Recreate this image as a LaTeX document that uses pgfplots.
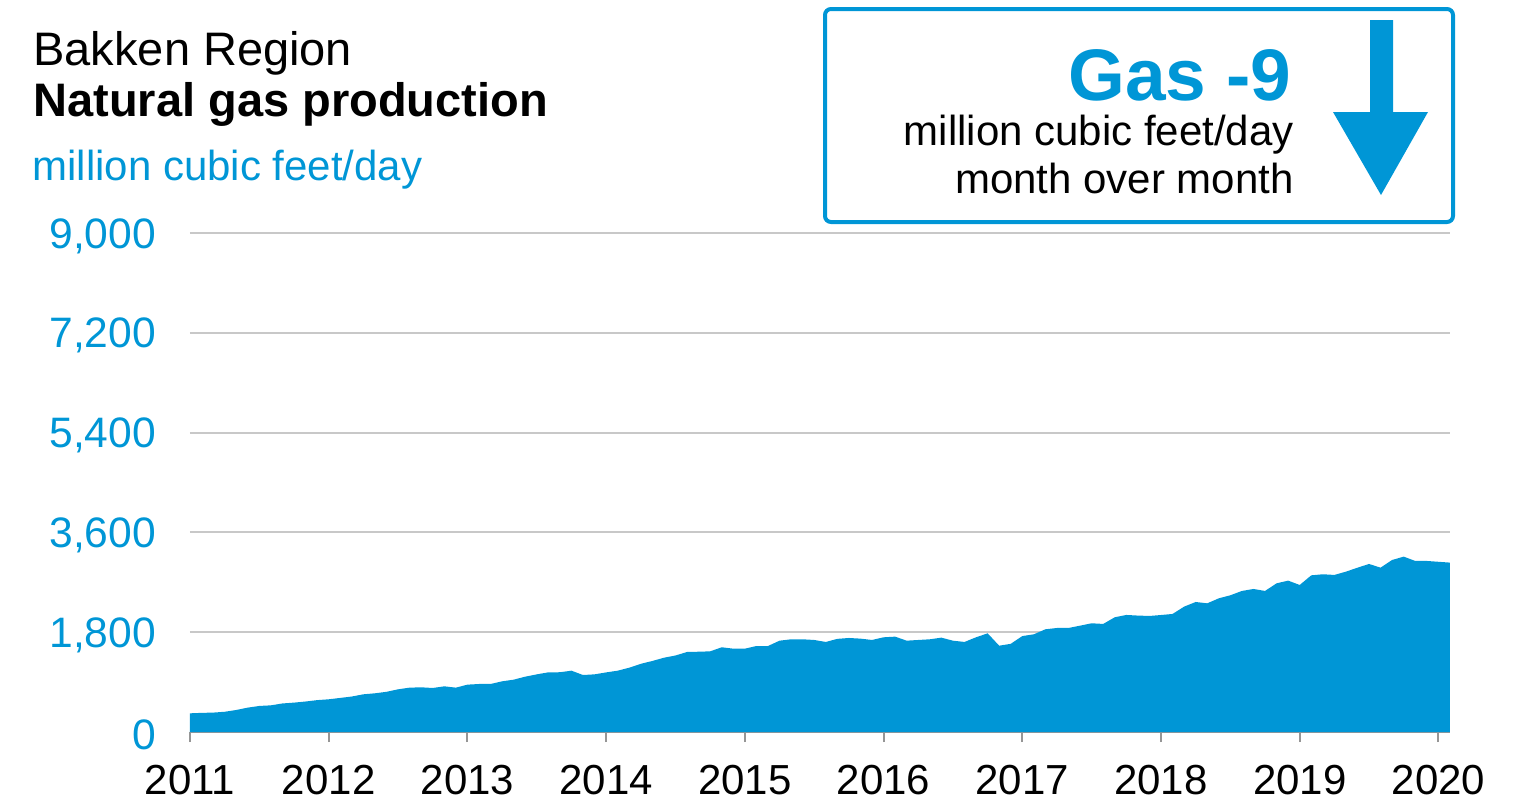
\documentclass[border=0pt]{standalone}
\usepackage{fontspec}
\setmainfont{Liberation Sans}
\usepackage{pgfplots}
\pgfplotsset{compat=1.18}
\usepackage{pgfplotstable}
\definecolor{eiablue}{RGB}{0,150,214}
\definecolor{gridgray}{RGB}{200,200,200}
\definecolor{tickgray}{RGB}{150,150,150}

\pgfplotstableread{
m val
0 337
1 345
2 350
3 365
4 397
5 440
6 470
7 481
8 515
9 530
10 550
11 575
12 590
13 615
14 640
15 680
16 698
17 725
18 770
19 800
20 806
21 794
22 824
23 800
24 854
25 866
26 866
27 914
28 944
29 998
30 1040
31 1076
32 1078
33 1106
34 1028
35 1040
36 1075
37 1106
38 1160
39 1230
40 1281
41 1340
42 1380
43 1443
44 1448
45 1455
46 1528
47 1503
48 1503
49 1551
50 1551
51 1647
52 1672
53 1672
54 1660
55 1624
56 1680
57 1696
58 1684
59 1660
60 1708
61 1720
62 1647
63 1660
64 1672
65 1702
66 1647
67 1624
68 1708
69 1780
70 1557
71 1590
72 1730
73 1762
74 1853
75 1876
76 1876
77 1918
78 1961
79 1949
80 2069
81 2111
82 2100
83 2093
84 2110
85 2129
86 2261
87 2345
88 2321
89 2411
90 2466
91 2544
92 2580
93 2544
94 2682
95 2730
96 2652
97 2826
98 2845
99 2833
100 2892
101 2964
102 3031
103 2964
104 3103
105 3163
106 3085
107 3085
108 3070
109 3055
}\gasdata

\begin{document}
\begin{tikzpicture}
\path (-95pt,-39.5pt) rectangle (663.5pt,366pt);
\begin{axis}[
  at={(0pt,0pt)}, anchor=south west,
  scale only axis,
  width=630pt, height=249.5pt,
  xmin=2011, xmax=2020.0833,
  ymin=0, ymax=9000,
  axis x line*=bottom, axis y line*=left,
  y axis line style={draw=none},
  x axis line style={draw=tickgray, line width=1pt},
  ytick={0,1800,3600,5400,7200,9000},
  xtick={2011,2012,2013,2014,2015,2016,2017,2018,2019,2020},
  xticklabels={2011,2012,2013,2014,2015,2016,2017,2018,2019,2020},
  ymajorgrids,
  grid style={draw=gridgray, line width=1pt},
  ytick style={draw=none},
  xtick style={draw=tickgray, line width=1pt},
  tick align=outside,
  major tick length=5pt,
  /pgf/number format/assume math mode=true,
  /pgf/number format/1000 sep={,},
  y tick label style={font=\fontsize{21.3}{25}\selectfont, text=eiablue, xshift=-8.5pt, yshift=-1.5pt},
  x tick label style={font=\fontsize{21}{25}\selectfont, text=black, yshift=-8pt},
  clip=false,
]
\addplot[fill=eiablue, draw=none] table[x expr={2011+\thisrow{m}/12}, y=val]{\gasdata} \closedcycle;
\end{axis}
% titles
\node[anchor=base west, inner sep=0pt, font=\fontsize{23.5}{28}\selectfont] at (-78.5pt,333.5pt) {Bakken Region};
\node[anchor=base west, inner sep=0pt, font=\fontsize{23.5}{28}\selectfont\bfseries] at (-78.5pt,308pt) {Natural gas production};
\node[anchor=base west, inner sep=0pt, font=\fontsize{21}{25}\selectfont, text=eiablue] at (-79pt,276pt) {million cubic feet/day};
% box
\draw[eiablue, line width=2pt, rounded corners=3pt] (317.5pt,255pt) rectangle (631.5pt,361.5pt);
\node[anchor=base east, inner sep=0pt, font=\fontsize{36.5}{40}\selectfont\bfseries, text=eiablue] at (551pt,316pt) {Gas -9};
\node[anchor=base east, inner sep=0pt, font=\fontsize{21}{25}\selectfont] at (552pt,293.5pt) {million cubic feet/day};
\node[anchor=base east, inner sep=0pt, font=\fontsize{21}{25}\selectfont] at (552pt,269.5pt) {month over month};
% arrow
\fill[eiablue] (590pt,356pt) -- (601.5pt,356pt) -- (601.5pt,310pt) -- (619pt,310pt) -- (595.5pt,268.5pt) -- (571.5pt,310pt) -- (590pt,310pt) -- cycle;
\end{tikzpicture}
\end{document}
